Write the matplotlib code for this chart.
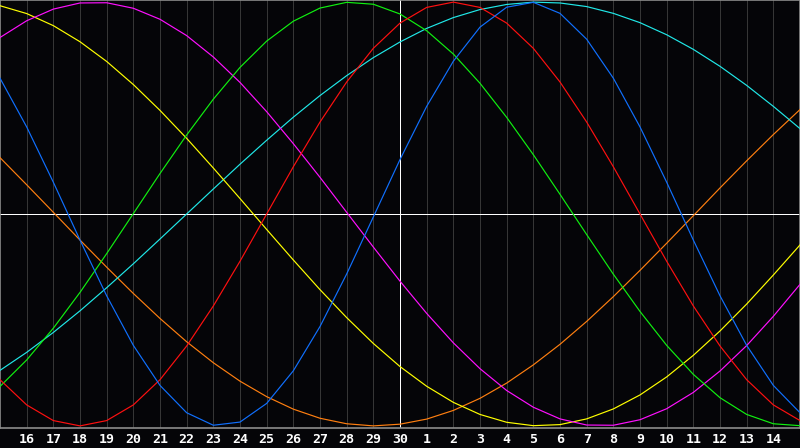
import matplotlib
matplotlib.use("Agg")
import matplotlib.pyplot as plt
import numpy as np

BG, GRID, EDGE = "#050508", "#363636", "#8c8c8c"

# day labels shown under the grid lines (positions 1..29, edges are day 15)
day_labels = ["16", "17", "18", "19", "20", "21", "22", "23", "24", "25", "26", "27", "28", "29", "30",
              "1", "2", "3", "4", "5", "6", "7", "8", "9", "10", "11", "12", "13", "14"]
today_idx = 15

# curve values read per day (31 samples, day 15 -> day 15), range -1..1
red = [-0.782, -0.901, -0.975, -1.0, -0.975, -0.901, -0.782, -0.623, -0.434, -0.223, 0.0,
       0.223, 0.434, 0.623, 0.782, 0.901, 0.975, 1.0, 0.975, 0.901, 0.782,
       0.623, 0.434, 0.223, 0.0, -0.223, -0.434, -0.623, -0.782, -0.901, -0.975]
blue = [0.641, 0.411, 0.150, -0.123, -0.386, -0.620, -0.809, -0.938, -0.997, -0.982, -0.894,
        -0.740, -0.531, -0.283, -0.014, 0.257, 0.508, 0.721, 0.882, 0.976, 0.999,
        0.947, 0.825, 0.641, 0.411, 0.150, -0.123, -0.386, -0.620, -0.809, -0.938]
green = [-0.814, -0.689, -0.539, -0.370, -0.187, 0.002, 0.191, 0.373, 0.542, 0.692, 0.816,
         0.910, 0.972, 0.999, 0.990, 0.944, 0.865, 0.755, 0.617, 0.456, 0.280,
         0.093, -0.097, -0.284, -0.460, -0.620, -0.757, -0.867, -0.946, -0.990, -0.999]
cyan = [-0.738, -0.653, -0.559, -0.457, -0.348, -0.235, -0.118, 0.0, 0.118, 0.235, 0.348,
        0.457, 0.559, 0.653, 0.738, 0.812, 0.876, 0.927, 0.965, 0.989, 1.0,
        0.996, 0.979, 0.947, 0.903, 0.846, 0.777, 0.697, 0.607, 0.508, 0.403]
magenta = [0.833, 0.912, 0.967, 0.996, 0.997, 0.971, 0.919, 0.842, 0.741, 0.621, 0.483,
           0.332, 0.173, 0.008, -0.156, -0.317, -0.469, -0.608, -0.730, -0.833, -0.912,
           -0.967, -0.996, -0.997, -0.971, -0.919, -0.842, -0.741, -0.621, -0.483, -0.332]
yellow = [0.983, 0.946, 0.889, 0.813, 0.720, 0.611, 0.489, 0.357, 0.217, 0.073, -0.073,
          -0.217, -0.357, -0.489, -0.611, -0.720, -0.813, -0.889, -0.946, -0.983, -0.999,
          -0.994, -0.967, -0.920, -0.854, -0.769, -0.667, -0.552, -0.425, -0.288, -0.146]
orange = [0.266, 0.138, 0.008, -0.123, -0.251, -0.375, -0.493, -0.603, -0.702, -0.789, -0.862,
          -0.921, -0.964, -0.990, -1.0, -0.992, -0.968, -0.927, -0.870, -0.798, -0.712,
          -0.615, -0.507, -0.390, -0.266, -0.138, -0.008, 0.123, 0.251, 0.375, 0.493]

series = [
    (orange, "#ff7f10"),
    (cyan, "#20e8e8"),
    (yellow, "#ffff00"),
    (magenta, "#ff10ff"),
    (green, "#10f010"),
    (red, "#ff1010"),
    (blue, "#1070ff"),
]

fig = plt.figure(figsize=(8, 4.48), dpi=100)
fig.patch.set_facecolor(BG)
ax = fig.add_axes([0, 20 / 448, 1, 428 / 448])
ax.set_facecolor(BG)

x = np.arange(len(red))
ax.set_xlim(0, len(red) - 1)
ax.set_ylim(-1.01, 1.01)

# day grid
for i in range(1, len(red) - 1):
    ax.axvline(i, color=GRID, lw=0.7, zorder=1, antialiased=False)
ax.axvline(today_idx, color="white", lw=0.72, zorder=2, antialiased=False)
ax.axhline(0, color="white", lw=0.72, zorder=2, antialiased=False)

for vals, col in series:
    ax.plot(x, vals, color=col, lw=0.85, zorder=3, antialiased=True, solid_joinstyle="round")

ax.set_xticks(np.arange(1, len(red) - 1))
ax.set_xticklabels(day_labels, family="DejaVu Sans Mono", fontweight="bold", fontsize=9.5, color="white")
ax.tick_params(axis="x", length=0, pad=3.5)
ax.set_yticks([])
for s in ax.spines.values():
    s.set_color(EDGE)
    s.set_linewidth(1.2)

fig.savefig("out.png", facecolor=BG, dpi=100)
